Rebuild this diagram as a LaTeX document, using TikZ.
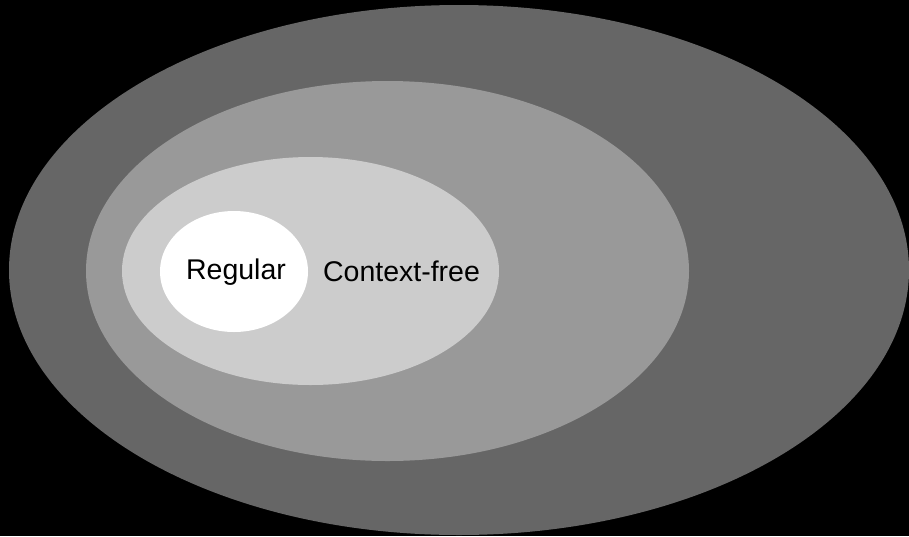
\documentclass[tikz,border=0pt]{standalone}
\usepackage{fontspec}
\setmainfont{Liberation Sans}

\begin{document}
\begin{tikzpicture}[x=1pt, y=-1pt]

    % Define styles
    \tikzset{
        level/.style={draw=none},
        classlabel/.style={font=\fontsize{28.5}{30}\selectfont, text=black, inner sep=0pt, anchor=base}
    }

    % 1. Background
    \fill[black] (0,0) rectangle (909,536);
    \useasboundingbox (0,0) rectangle (909,536);

    % 2. Nested language classes (outermost first)
    \fill[level, fill=black!60] (459,270) ellipse [x radius=450, y radius=265];
    \fill[level, fill=black!40] (387.5,271) ellipse [x radius=301.5, y radius=190];
    \fill[level, fill=black!20] (310.5,271) ellipse [x radius=188.5, y radius=114];
    \fill[level, fill=white] (234,271.5) ellipse [x radius=74, y radius=60.5];

    % 3. Labels
    \node[classlabel] (Regular) at (236,279) {Regular};
    \node[classlabel] (ContextFree) at (401.5,281) {Context-free};

\end{tikzpicture}
\end{document}
